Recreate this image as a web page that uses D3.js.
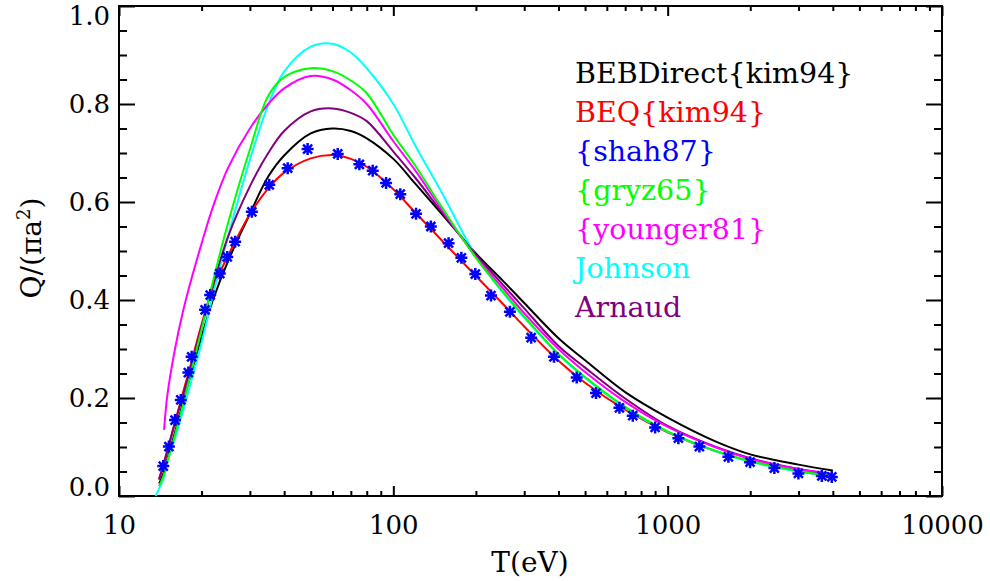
<!DOCTYPE html>
<html>
<head>
<meta charset="utf-8">
<script src="https://cdn.jsdelivr.net/npm/d3@7"></script>
<style>
  body { margin: 0; background: #fff; }
  svg text { font-family: "DejaVu Serif", serif; }
  .tick line { stroke: #000; stroke-width: 2; }
</style>
</head>
<body>
<script>
// === Data ===
const energies = [13.6, 14, 14.6, 15, 16, 17, 18, 20, 22, 25, 30, 35, 40, 50, 60, 70, 80, 100, 120, 150, 200, 250, 300, 400, 500, 700, 1000, 1500, 2000, 3000, 4000];

const bebDirect = [null, 0.025, 0.05, 0.075, 0.13, 0.185, 0.235, 0.325, 0.40, 0.48, 0.576, 0.652, 0.695, 0.740, 0.750, 0.745, 0.730, 0.688, 0.638, 0.576, 0.495, 0.440, 0.394, 0.322, 0.277, 0.212, 0.160, 0.111, 0.085, 0.064, 0.052];
const beq       = [null, 0.035, 0.065, 0.09, 0.15, 0.205, 0.255, 0.35, 0.425, 0.491, 0.575, 0.628, 0.660, 0.689, 0.696, 0.688, 0.672, 0.626, 0.579, 0.522, 0.449, 0.393, 0.346, 0.276, 0.231, 0.176, 0.130, 0.091, 0.071, 0.051, 0.040];
const gryz65    = [null, 0.02, 0.045, 0.07, 0.125, 0.18, 0.235, 0.34, 0.438, 0.558, 0.707, 0.817, 0.855, 0.873, 0.867, 0.848, 0.822, 0.737, 0.675, 0.590, 0.486, 0.418, 0.366, 0.290, 0.243, 0.182, 0.132, 0.092, 0.071, 0.051, 0.040];
const younger81 = [null, null, 0.135, 0.205, 0.30, 0.37, 0.425, 0.515, 0.59, 0.67, 0.75, 0.80, 0.832, 0.857, 0.850, 0.828, 0.800, 0.724, 0.665, 0.585, 0.488, 0.425, 0.373, 0.300, 0.253, 0.192, 0.141, 0.099, 0.076, 0.055, 0.045];
const johnson   = [0.0, 0.015, 0.04, 0.07, 0.118, 0.168, 0.218, 0.313, 0.41, 0.53, 0.686, 0.798, 0.866, 0.917, 0.923, 0.905, 0.873, 0.800, 0.716, 0.620, 0.490, 0.416, 0.364, 0.288, 0.241, 0.180, 0.131, 0.091, 0.070, 0.050, 0.040];
const arnaud    = [null, 0.033, 0.07, 0.093, 0.15, 0.20, 0.25, 0.345, 0.43, 0.53, 0.632, 0.700, 0.745, 0.785, 0.791, 0.782, 0.765, 0.703, 0.650, 0.580, 0.492, 0.432, 0.383, 0.306, 0.262, 0.199, 0.143, 0.100, 0.077, 0.055, 0.044];

const shahT = [14.5, 15.2, 16, 16.8, 17.9, 18.4, 20.6, 21.5, 23.3, 24.8, 26.5, 30.5, 35.3, 41.2, 48.7, 62.7, 75.2, 84.1, 94.1, 106, 121, 137, 159, 177, 199, 227, 266, 318, 385, 466, 548, 667, 746, 900, 1094, 1305, 1665, 1997, 2449, 2996, 3647, 3965];
const shahQ = [0.061, 0.101, 0.155, 0.196, 0.252, 0.284, 0.380, 0.410, 0.454, 0.488, 0.519, 0.580, 0.635, 0.669, 0.708, 0.698, 0.677, 0.664, 0.639, 0.616, 0.576, 0.550, 0.516, 0.486, 0.453, 0.409, 0.376, 0.323, 0.284, 0.242, 0.210, 0.180, 0.164, 0.140, 0.118, 0.101, 0.080, 0.069, 0.057, 0.046, 0.041, 0.039];

const legendLabels = ["BEBDirect{kim94}", "BEQ{kim94}", "{shah87}", "{gryz65}", "{younger81}", "Johnson", "Arnaud"];
const legendColors = ["#000000", "#ff0000", "#0000ff", "#00ff00", "#ff00ff", "#00ffff", "#800080"];

const xMajor = [10, 100, 1000, 10000];
const yMajor = [0, 0.2, 0.4, 0.6, 0.8, 1.0];

// === Margin Convention ===
const margin = {top: 6, right: 48, bottom: 85, left: 119};
const width = 990 - margin.left - margin.right,
      height = 581 - margin.top - margin.bottom;

const svg = d3.select("body").append("svg")
    .attr("width", 990)
    .attr("height", 581);

const g = svg.append("g")
    .attr("transform", `translate(${margin.left},${margin.top})`);

// === Scales ===
const x = d3.scaleLog().domain([10, 10000]).range([0, width]);
const y = d3.scaleLinear().domain([0, 1]).range([height, 0]);

const xMinor = [];
xMajor.slice(0, -1).forEach(d => { for (let k = 2; k <= 9; k++) xMinor.push(d * k); });
const yMinor = d3.range(0, 1.0001, 0.05).filter(v => Math.abs(v * 5 - Math.round(v * 5)) > 1e-6);

// === Axes ===
function drawAxis(axis, tx, ty) {
  const a = g.append("g").attr("transform", `translate(${tx},${ty})`).call(axis);
  a.select(".domain").remove();
  a.selectAll("text").attr("fill", "#000").attr("font-size", 26);
  return a;
}

drawAxis(d3.axisBottom(x).tickValues(xMajor).tickSize(-10).tickPadding(20).tickFormat(d3.format("d")), 0, height);
drawAxis(d3.axisBottom(x).tickValues(xMinor).tickSize(-5).tickFormat(""), 0, height);
drawAxis(d3.axisTop(x).tickValues(xMajor).tickSize(-10).tickFormat(""), 0, 0);
drawAxis(d3.axisTop(x).tickValues(xMinor).tickSize(-5).tickFormat(""), 0, 0);

const yAxisG = drawAxis(d3.axisLeft(y).tickValues(yMajor).tickSize(-16).tickPadding(9).tickFormat(d3.format(".1f")), 0, 0);
drawAxis(d3.axisLeft(y).tickValues(yMinor).tickSize(-8).tickFormat(""), 0, 0);
drawAxis(d3.axisRight(y).tickValues(yMajor).tickSize(-16).tickFormat(""), width, 0);
drawAxis(d3.axisRight(y).tickValues(yMinor).tickSize(-8).tickFormat(""), width, 0);

// end labels sit inside the frame, like the original
yAxisG.selectAll(".tick text")
    .attr("transform", d => d === 0 ? "translate(0,-9)" : d === 1 ? "translate(0,10)" : null);

g.append("rect")
    .attr("width", width)
    .attr("height", height)
    .attr("fill", "none")
    .attr("stroke", "#000")
    .attr("stroke-width", 2);

// === Axis titles ===
svg.append("text")
    .attr("x", 530)
    .attr("y", 572)
    .attr("text-anchor", "middle")
    .attr("font-size", 28)
    .text("T(eV)");

const yTitle = svg.append("text")
    .attr("transform", "translate(41,248) rotate(-90)")
    .attr("text-anchor", "middle")
    .attr("font-size", 28);
yTitle.append("tspan").text("Q/(πa");
yTitle.append("tspan").attr("dy", -11).attr("font-size", 18).text("2");
yTitle.append("tspan").attr("dy", 11).text(")");

// === Curves ===
const line = d3.line()
    .defined(d => d.q != null)
    .x(d => x(d.t))
    .y(d => y(d.q))
    .curve(d3.curveCatmullRom.alpha(0.5));

const series = [
  {values: bebDirect, color: legendColors[0]},
  {values: beq,       color: legendColors[1]},
  {values: johnson,   color: legendColors[5]},
  {values: arnaud,    color: legendColors[6]},
  {values: younger81, color: legendColors[4]},
  {values: gryz65,    color: legendColors[3]}
];

series.forEach(s => {
  g.append("path")
      .datum(energies.map((t, i) => ({t: t, q: s.values[i]})))
      .attr("fill", "none")
      .attr("stroke", s.color)
      .attr("stroke-width", 2)
      .attr("d", line);
});

// === shah87 points (asterisks) ===
const r = 6;
const star = `M0,${-r}L0,${r}M${-r},0L${r},0M${-r*0.75},${-r*0.75}L${r*0.75},${r*0.75}M${-r*0.75},${r*0.75}L${r*0.75},${-r*0.75}`;

g.selectAll(".shah")
    .data(shahT.map((t, i) => ({t: t, q: shahQ[i]})))
    .enter()
    .append("path")
    .attr("class", "shah")
    .attr("transform", d => `translate(${x(d.t)},${y(d.q)})`)
    .attr("d", star)
    .attr("fill", "none")
    .attr("stroke", legendColors[2])
    .attr("stroke-width", 2.5);

// === Legend ===
svg.selectAll(".legend")
    .data(legendLabels)
    .enter()
    .append("text")
    .attr("class", "legend")
    .attr("x", 575)
    .attr("y", (d, i) => 83 + i * 39)
    .attr("font-size", 28.5)
    .attr("fill", (d, i) => legendColors[i])
    .text(d => d);
</script>
</body>
</html>
